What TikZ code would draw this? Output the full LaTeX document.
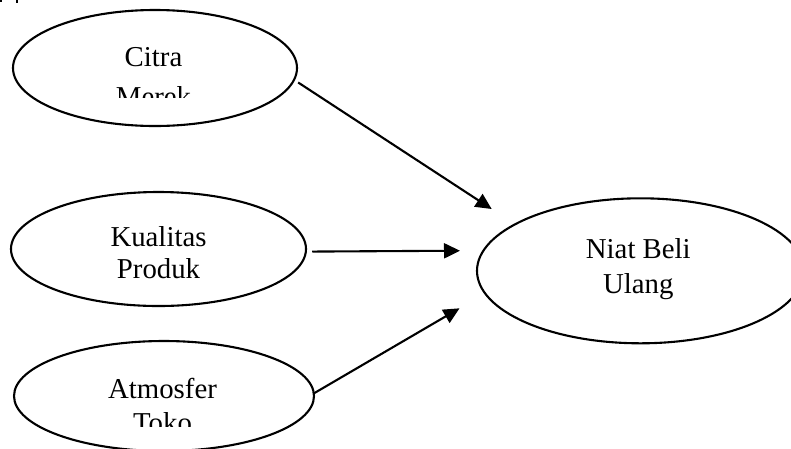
\documentclass[tikz,border=0pt]{standalone}
\usepackage{fontspec}
\setmainfont{Liberation Serif}
\usetikzlibrary{arrows.meta,shapes.geometric}
\begin{document}
\begin{tikzpicture}[x=1pt,y=-1pt,
  oval/.style={draw=black, line width=2.1pt, ellipse, inner sep=0pt, outer sep=0pt},
  lbl/.style={inner sep=0pt, anchor=base},
  arr/.style={line width=2.1pt, -{Triangle[length=16pt,width=15pt]}}]
\useasboundingbox (0,0) rectangle (791,448);
\clip (0,0) rectangle (791,448);
% fragments at top left
\fill (0,0) rectangle (2,2);
\fill (15.5,0) rectangle (18,3);
% ellipses
\node[oval, minimum width=284pt, minimum height=116pt] (citra) at (155,68) {};
\node[oval, minimum width=295pt, minimum height=114pt] (kual) at (158.5,249) {};
\node[oval, minimum width=300pt, minimum height=110pt] (atmos) at (164,396) {};
\node[oval, minimum width=327pt, minimum height=145pt] (niat) at (640.5,270.8) {};
% labels
\begin{scope}
\clip (0,0) rectangle (791,97.3);
\node[lbl, font=\fontsize{28.8}{40}\selectfont] (citratxt) at (153.5,66) {\begin{tabular}[t]{@{}c@{}}Citra\\Merek\end{tabular}};
\end{scope}
\node[lbl, font=\fontsize{28.8}{32}\selectfont] (kualtxt) at (158.5,246) {\begin{tabular}[t]{@{}c@{}}Kualitas\\Produk\end{tabular}};
\begin{scope}
\clip (0,300) rectangle (791,426.7);
\node[lbl, font=\fontsize{28.8}{34}\selectfont] (atmostxt) at (162.5,398.3) {\begin{tabular}[t]{@{}c@{}}Atmosfer\\Toko\end{tabular}};
\end{scope}
\node[lbl, font=\fontsize{28.8}{35}\selectfont] (niattxt) at (638.3,258.3) {\begin{tabular}[t]{@{}c@{}}Niat Beli\\Ulang\end{tabular}};
% arrow ends
\coordinate (t1) at (491.7,209);
\coordinate (t2) at (460,250.7);
\coordinate (t3) at (459.5,308.3);
\draw[arr] ([xshift=5.6pt]citra.-6) -- (t1);
\draw[arr] ([xshift=6.4pt]kual.-1) -- (t2);
\draw[arr] (atmos.1) -- (t3);
\end{tikzpicture}
\end{document}
